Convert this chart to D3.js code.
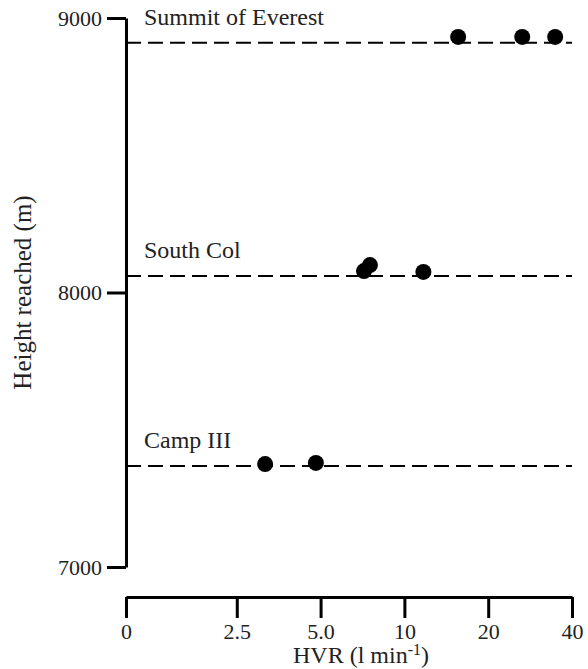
<!DOCTYPE html>
<html>
<head>
<meta charset="utf-8">
<script src="https://cdn.jsdelivr.net/npm/d3@7"></script>
<style>
  html, body { margin: 0; padding: 0; background: #fff; }
  svg { display: block; font-family: "Liberation Serif", "Times New Roman", serif; }
</style>
</head>
<body>
<svg id="chart" width="588" height="669"></svg>
<script>
// ---- Data ----
const levels = ["Summit of Everest", "South Col", "Camp III"];
const levelHeights = [8910, 8060, 7368];
const pointLevel = ["Summit of Everest", "Summit of Everest", "Summit of Everest",
                    "South Col", "South Col", "South Col",
                    "Camp III", "Camp III"];
const pointHVR = [15.6, 26.5, 34.8, 7.16, 7.52, 11.7, 3.16, 4.81];
const pointHeight = [8931, 8931, 8931, 8078, 8100, 8075, 7375, 7379];
const xTickValues = [1, 2.5, 5, 10, 20, 40];
const xTickLabels = ["0", "2.5", "5.0", "10", "20", "40"];
const yTickValues = [7000, 8000, 9000];
const yTickLabels = ["7000", "8000", "9000"];

// ---- Layout ----
const svg = d3.select("#chart");
const xLeft = 126, xRight = 572;
const yTop = 18, yBottom = 567;
const xAxisY = 597;

const x = d3.scaleLog().domain([1, 40]).range([xLeft, xRight]);
const y = d3.scaleLinear().domain([7000, 9000]).range([yBottom, yTop]);

// Y axis
const yAxis = d3.axisLeft(y)
  .tickValues(yTickValues)
  .tickFormat((d, i) => yTickLabels[i])
  .tickSize(19)
  .tickSizeOuter(0)
  .tickPadding(5);
const gy = svg.append("g").attr("transform", `translate(${xLeft},0)`).call(yAxis);
gy.select(".domain").attr("stroke", "#000").attr("stroke-width", 3);
gy.selectAll(".tick line").attr("stroke", "#000").attr("stroke-width", 3);
gy.selectAll(".tick text").attr("font-size", 22).attr("fill", "#222")
  .attr("font-family", "Liberation Serif, serif");

// X axis
const xAxis = d3.axisBottom(x)
  .tickValues(xTickValues)
  .tickFormat((d, i) => xTickLabels[i])
  .tickSize(21)
  .tickSizeOuter(0)
  .tickPadding(5);
const gx = svg.append("g").attr("transform", `translate(0,${xAxisY})`).call(xAxis);
gx.select(".domain").attr("stroke", "#000").attr("stroke-width", 3);
gx.selectAll(".tick line").attr("stroke", "#000").attr("stroke-width", 3);
gx.selectAll(".tick text").attr("font-size", 22).attr("fill", "#222")
  .attr("font-family", "Liberation Serif, serif");

// Dashed level lines
svg.append("g").selectAll("line").data(levelHeights).join("line")
  .attr("x1", xLeft).attr("x2", xRight)
  .attr("y1", d => y(d)).attr("y2", d => y(d))
  .attr("stroke", "#000").attr("stroke-width", 2)
  .attr("stroke-dasharray", "15,7");

// Level labels
svg.append("g").selectAll("text").data(levels).join("text")
  .attr("x", xLeft + 18)
  .attr("y", (d, i) => y(levelHeights[i]) - 18)
  .attr("font-size", 24).attr("fill", "#222")
  .text(d => d);

// Points
svg.append("g").selectAll("circle").data(pointHVR).join("circle")
  .attr("cx", d => x(d))
  .attr("cy", (d, i) => y(pointHeight[i]))
  .attr("r", 8)
  .attr("fill", "#000");

// Axis titles
svg.append("text")
  .attr("transform", `translate(31,${(yTop + yBottom) / 2}) rotate(-90)`)
  .attr("text-anchor", "middle")
  .attr("font-size", 25).attr("fill", "#222")
  .text("Height reached (m)");

const xt = svg.append("text")
  .attr("x", (xLeft + xRight) / 2 + 12)
  .attr("y", 663)
  .attr("text-anchor", "middle")
  .attr("font-size", 24).attr("fill", "#222");
xt.append("tspan").text("HVR (l min");
xt.append("tspan").attr("dy", -8).attr("font-size", 16).text("-1");
xt.append("tspan").attr("dy", 8).text(")");
</script>
</body>
</html>
